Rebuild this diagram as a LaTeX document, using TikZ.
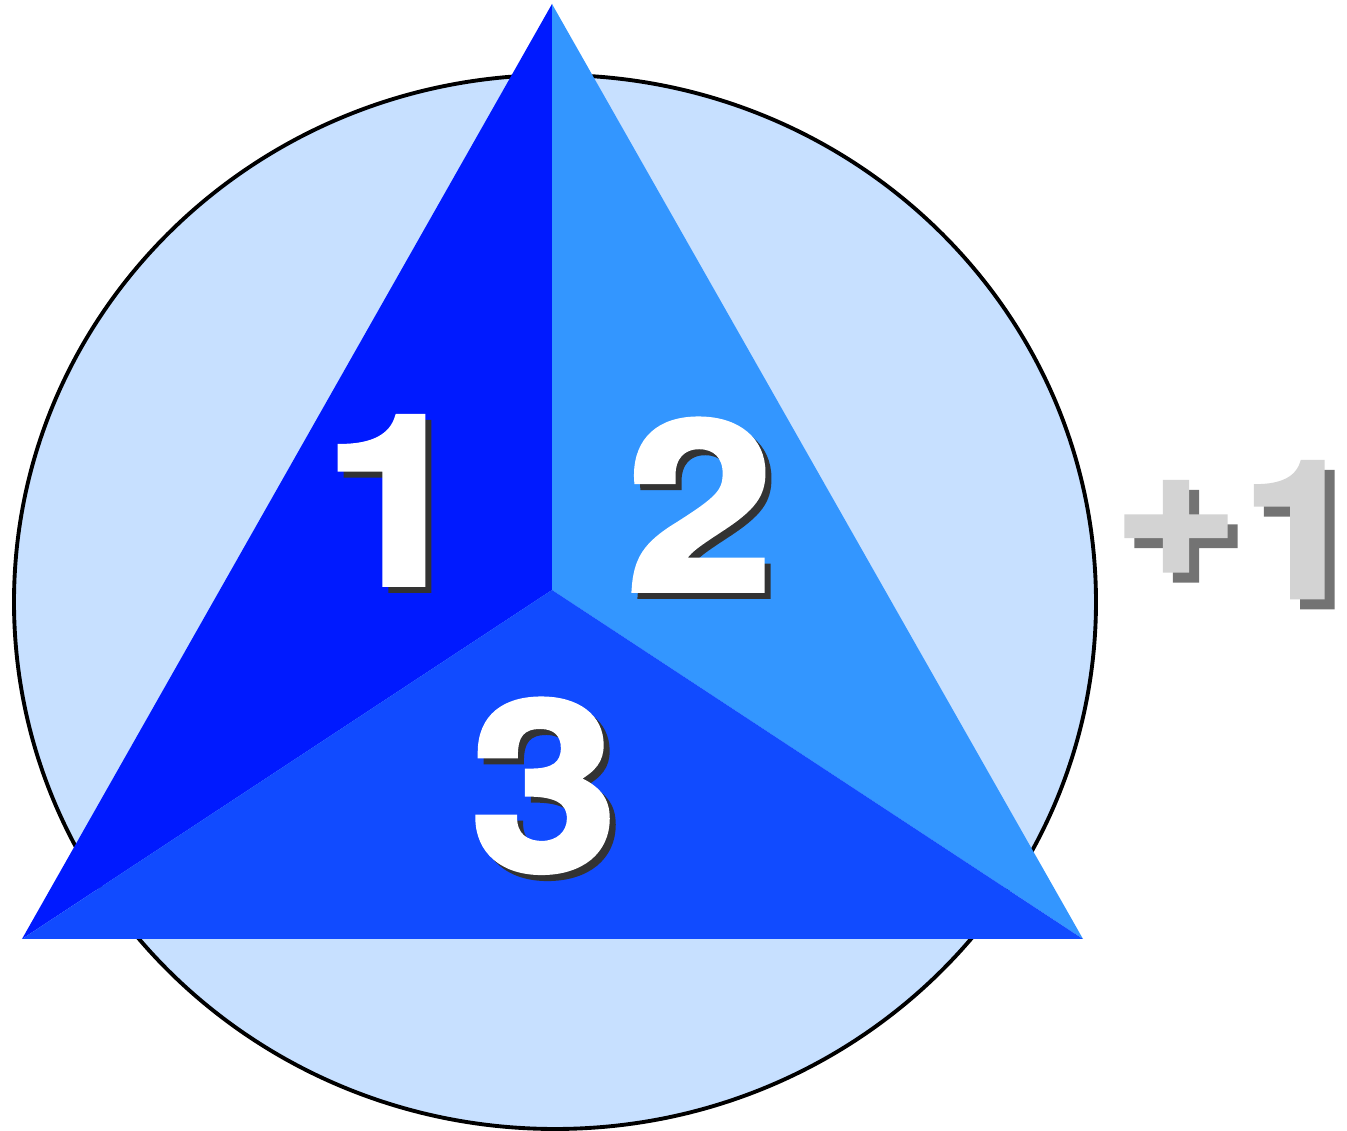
\documentclass[tikz,border=0pt]{standalone}
\usepackage{fontspec}
\setmainfont{Liberation Sans}
\newfontfamily\cifrafont{texgyreheros-bold.otf}[FakeBold=2.5, FakeStretch=1.12]
\begin{document}
\begin{tikzpicture}[x=0.01cm, y=-0.01cm]

\definecolor{circulo}{RGB}{199,224,255}
\definecolor{caraA}{RGB}{0,26,255}
\definecolor{caraB}{RGB}{51,150,255}
\definecolor{caraC}{RGB}{17,75,255}
\definecolor{sombraN}{RGB}{51,51,51}
\definecolor{grisC}{RGB}{211,211,211}
\definecolor{grisO}{RGB}{115,115,115}

\tikzset{
  cifra/.style={font=\cifrafont\fontsize{67}{67}\selectfont, text=white, anchor=base, inner sep=0pt},
  sombra/.style={cifra, text=sombraN},
  extra/.style={font=\cifrafont\fontsize{54}{54}\selectfont, text=grisC, anchor=base, inner sep=0pt},
  extrasombra/.style={extra, text=grisO}
}

\useasboundingbox (0,0) rectangle (1347,1131);

% Circulo de fondo
\fill[circulo] (555,602) ellipse [x radius=541, y radius=527];
\draw[black, line width=1.1pt] (555,602) ellipse [x radius=541, y radius=527];

% Caras del triangulo
\coordinate (vA) at (552,4);
\coordinate (vI) at (22,939);
\coordinate (vD) at (1083,939);
\coordinate (cen) at (552,590);
\fill[caraA] (vA) -- (cen) -- (vI) -- cycle;
\fill[caraB] (vA) -- (vD) -- (cen) -- cycle;
\fill[caraC] (vI) -- (cen) -- (vD) -- cycle;

% Numeros con sombra
\node[sombra] (s1) at (402,590) {1};
\node[cifra]  (n1) at (396,584) {1};
\node[sombra] (s2) at (706,596) {2};
\node[cifra]  (n2) at (700,590) {2};
\node[sombra] (s3) at (550,876) {3};
\node[cifra]  (n3) at (544,870) {3};

% Etiqueta +1
\node[extrasombra, anchor=center] (smas) at (1186,538) {+};
\node[extra, anchor=center]       (mas)  at (1176,528) {+};
\node[extrasombra] (suno) at (1311,607) {1};
\node[extra]       (uno)  at (1301,597) {1};

\end{tikzpicture}
\end{document}
